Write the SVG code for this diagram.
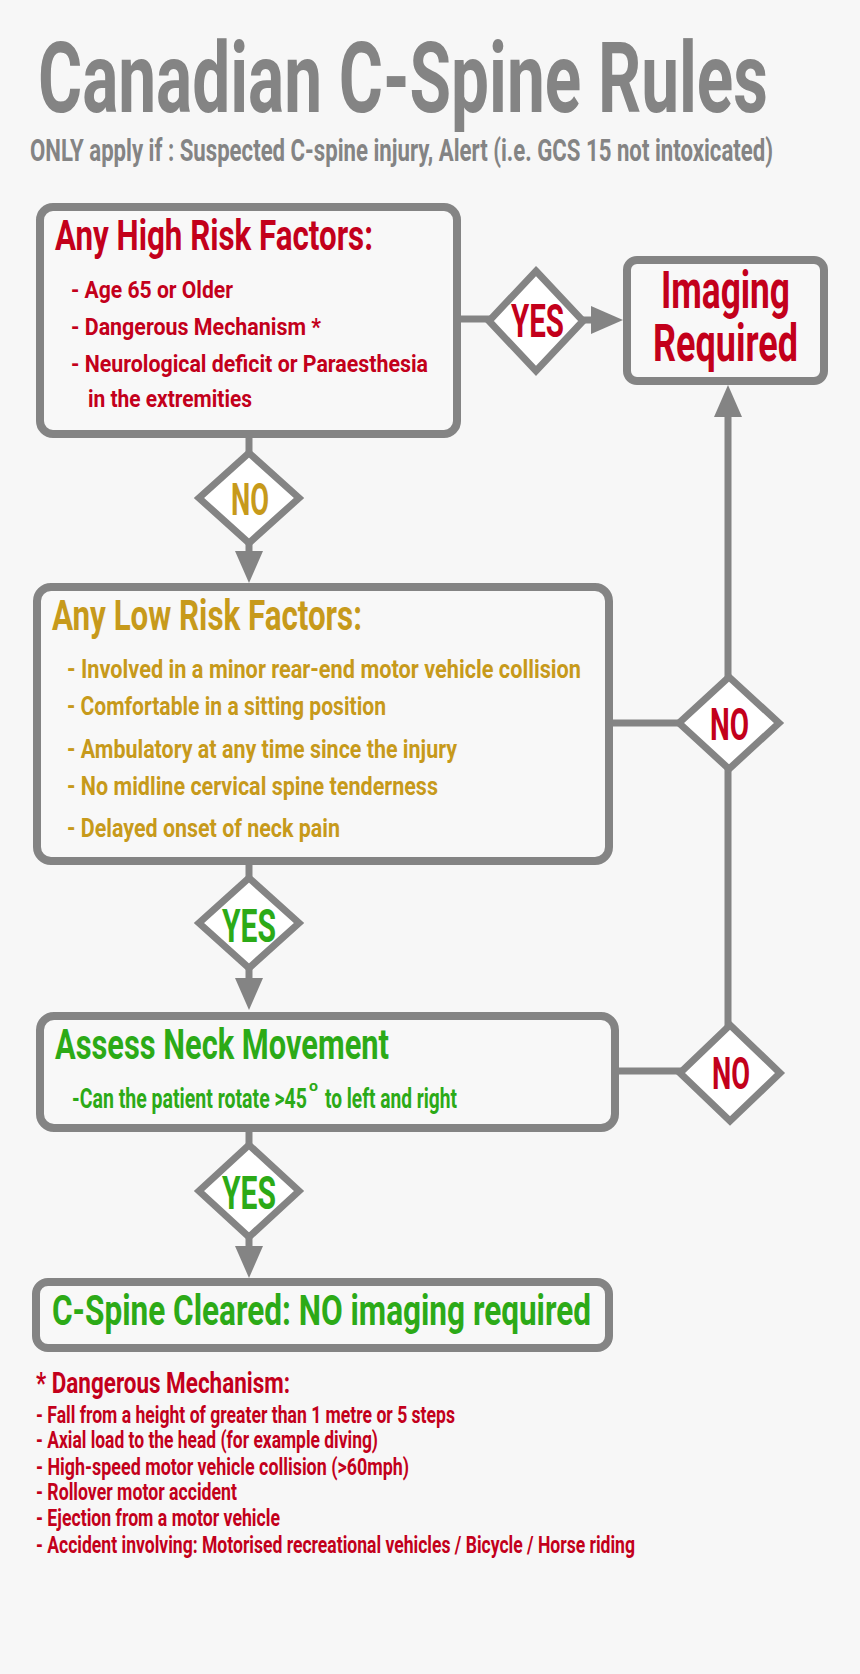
<svg xmlns="http://www.w3.org/2000/svg" width="860" height="1674" viewBox="0 0 860 1674">
<defs>
<style>
text{font-family:Roboto,"DejaVu Sans Condensed","Liberation Sans",sans-serif;font-weight:700}
.box{fill:#f8f8f8;stroke:#848484;stroke-width:8}
.dia{fill:#ffffff;stroke:#848484;stroke-width:7;stroke-linejoin:miter}
.ln{stroke:#848484;stroke-width:7;fill:none}
.gray{fill:#848484}
.red{fill:#c3001b}
.gold{fill:#c79a1b}
.green{fill:#2caa17}
</style>
<marker id="arr" markerUnits="userSpaceOnUse" viewBox="0 0 32 28" markerWidth="32" markerHeight="28" refX="12" refY="14" orient="auto">
<path d="M0,0 L32,14 L0,28 Z" fill="#848484"/>
</marker>
</defs>
<rect width="860" height="1674" fill="#f7f7f7"/>

<g id="title">
<g transform="scale(0.62 1)">
<text class="gray" x="61.29" y="112" font-size="98" textLength="1177.42" lengthAdjust="spacingAndGlyphs">Canadian C-Spine Rules</text>
<text class="gray" x="48.39" y="161" font-size="32" textLength="1198.39" lengthAdjust="spacingAndGlyphs">ONLY apply if : Suspected C-spine injury, Alert (i.e. GCS 15 not intoxicated)</text>
</g>
</g>

<g id="connectors">
<line class="ln" x1="249" y1="436" x2="249" y2="454"/>
<line class="ln" x1="249" y1="542" x2="249" y2="563" marker-end="url(#arr)"/>
<line class="ln" x1="459" y1="319" x2="490" y2="319"/>
<line class="ln" x1="582" y1="320" x2="603" y2="320" marker-end="url(#arr)"/>
<line class="ln" x1="611" y1="723" x2="680" y2="723"/>
<line class="ln" x1="728" y1="678" x2="728" y2="405" marker-end="url(#arr)"/>
<line class="ln" x1="728" y1="768" x2="728" y2="1026"/>
<line class="ln" x1="249" y1="859" x2="249" y2="879"/>
<line class="ln" x1="249" y1="967" x2="249" y2="990" marker-end="url(#arr)"/>
<line class="ln" x1="617" y1="1071" x2="682" y2="1071"/>
<line class="ln" x1="249" y1="1126" x2="249" y2="1146"/>
<line class="ln" x1="249" y1="1236" x2="249" y2="1258" marker-end="url(#arr)"/>
</g>

<g id="high-risk">
<rect class="box" x="40" y="207" width="417" height="227" rx="13"/>
<g transform="scale(0.7 1)">
<text class="red" x="78.571" y="250" font-size="43" textLength="454.286" lengthAdjust="spacingAndGlyphs">Any High Risk Factors:</text>
<text class="red" x="101.429" y="298" font-size="24" textLength="231.429" lengthAdjust="spacingAndGlyphs">- Age 65 or Older</text>
<text class="red" x="101.429" y="335" font-size="24" textLength="357.143" lengthAdjust="spacingAndGlyphs">- Dangerous Mechanism *</text>
<text class="red" x="101.429" y="372" font-size="24" textLength="510" lengthAdjust="spacingAndGlyphs">- Neurological deficit or Paraesthesia</text>
<text class="red" x="125.714" y="407" font-size="24" textLength="234.286" lengthAdjust="spacingAndGlyphs">in the extremities</text>
</g>
</g>

<g id="yes-high">
<polygon class="dia" points="536,271 583,321 536,371 489,321"/>
<text class="red" transform="scale(0.7 1)" x="767.857" y="337" font-size="46" text-anchor="middle" textLength="75.714" lengthAdjust="spacingAndGlyphs">YES</text>
</g>

<g id="imaging">
<rect class="box" x="627" y="260" width="197" height="121" rx="10"/>
<g transform="scale(0.7 1)">
<text class="red" x="1036.429" y="308" font-size="51" text-anchor="middle" textLength="184.286" lengthAdjust="spacingAndGlyphs">Imaging</text>
<text class="red" x="1036.429" y="361" font-size="51" text-anchor="middle" textLength="207.143" lengthAdjust="spacingAndGlyphs">Required</text>
</g>
</g>

<g id="no-high">
<polygon class="dia" points="249,453 299,498 249,543 199,498"/>
<text class="gold" transform="scale(0.7 1)" x="357.143" y="515" font-size="45" text-anchor="middle" textLength="54.286" lengthAdjust="spacingAndGlyphs">NO</text>
</g>

<g id="low-risk">
<rect class="box" x="37" y="587" width="572" height="274" rx="14"/>
<g transform="scale(0.7 1)">
<text class="gold" x="74.286" y="630" font-size="42" textLength="442.857" lengthAdjust="spacingAndGlyphs">Any Low Risk Factors:</text>
<text class="gold" x="95.714" y="678" font-size="25" textLength="734.286" lengthAdjust="spacingAndGlyphs">- Involved in a minor rear-end motor vehicle collision</text>
<text class="gold" x="95.714" y="715" font-size="25" textLength="455.714" lengthAdjust="spacingAndGlyphs">- Comfortable in a sitting position</text>
<text class="gold" x="95.714" y="758" font-size="25" textLength="557.143" lengthAdjust="spacingAndGlyphs">- Ambulatory at any time since the injury</text>
<text class="gold" x="95.714" y="795" font-size="25" textLength="530" lengthAdjust="spacingAndGlyphs">- No midline cervical spine tenderness</text>
<text class="gold" x="95.714" y="837" font-size="25" textLength="390" lengthAdjust="spacingAndGlyphs">- Delayed onset of neck pain</text>
</g>
</g>

<g id="no-low">
<polygon class="dia" points="729,677 779,723 729,769 679,723"/>
<text class="red" transform="scale(0.7 1)" x="1042.143" y="740" font-size="45" text-anchor="middle" textLength="55.714" lengthAdjust="spacingAndGlyphs">NO</text>
</g>

<g id="yes-low">
<polygon class="dia" points="249,878 299,923 249,968 199,923"/>
<text class="green" transform="scale(0.7 1)" x="355.714" y="942" font-size="46" text-anchor="middle" textLength="77.143" lengthAdjust="spacingAndGlyphs">YES</text>
</g>

<g id="assess">
<rect class="box" x="40" y="1016" width="575" height="112" rx="14"/>
<g transform="scale(0.7 1)">
<text class="green" x="78.571" y="1059" font-size="43" textLength="477.143" lengthAdjust="spacingAndGlyphs">Assess Neck Movement</text>
<text class="green" x="102.857" y="1108" font-size="27" textLength="335.714" lengthAdjust="spacingAndGlyphs">-Can the patient rotate &gt;45</text>
<text class="green" x="441.429" y="1091" font-size="15" textLength="12.857" lengthAdjust="spacingAndGlyphs">o</text>
<text class="green" x="464.286" y="1108" font-size="27" textLength="188.571" lengthAdjust="spacingAndGlyphs">to left and right</text>
</g>
</g>

<g id="no-assess">
<polygon class="dia" points="730,1025 780,1073 730,1121 680,1073"/>
<text class="red" transform="scale(0.7 1)" x="1044.286" y="1089" font-size="45" text-anchor="middle" textLength="54.286" lengthAdjust="spacingAndGlyphs">NO</text>
</g>

<g id="yes-assess">
<polygon class="dia" points="249,1145 299,1191 249,1237 199,1191"/>
<text class="green" transform="scale(0.7 1)" x="355.714" y="1209" font-size="46" text-anchor="middle" textLength="77.143" lengthAdjust="spacingAndGlyphs">YES</text>
</g>

<g id="cleared">
<rect class="box" x="36" y="1282" width="573" height="66" rx="12"/>
<text class="green" transform="scale(0.7 1)" x="74.286" y="1325" font-size="42" textLength="770" lengthAdjust="spacingAndGlyphs">C-Spine Cleared: NO imaging required</text>
</g>

<g id="footnote">
<g transform="scale(0.7 1)">
<text class="red" x="51.429" y="1393" font-size="29" textLength="362.857" lengthAdjust="spacingAndGlyphs">* Dangerous Mechanism:</text>
<text class="red" x="51.429" y="1423" font-size="23" textLength="598.571" lengthAdjust="spacingAndGlyphs">- Fall from a height of greater than 1 metre or 5 steps</text>
<text class="red" x="51.429" y="1448" font-size="23" textLength="488.571" lengthAdjust="spacingAndGlyphs">- Axial load to the head (for example diving)</text>
<text class="red" x="51.429" y="1475" font-size="23" textLength="532.857" lengthAdjust="spacingAndGlyphs">- High-speed motor vehicle collision (&gt;60mph)</text>
<text class="red" x="51.429" y="1500" font-size="23" textLength="287.143" lengthAdjust="spacingAndGlyphs">- Rollover motor accident</text>
<text class="red" x="51.429" y="1526" font-size="23" textLength="348.571" lengthAdjust="spacingAndGlyphs">- Ejection from a motor vehicle</text>
<text class="red" x="51.429" y="1553" font-size="23" textLength="855.714" lengthAdjust="spacingAndGlyphs">- Accident involving: Motorised recreational vehicles / Bicycle / Horse riding</text>
</g>
</g>
</svg>
